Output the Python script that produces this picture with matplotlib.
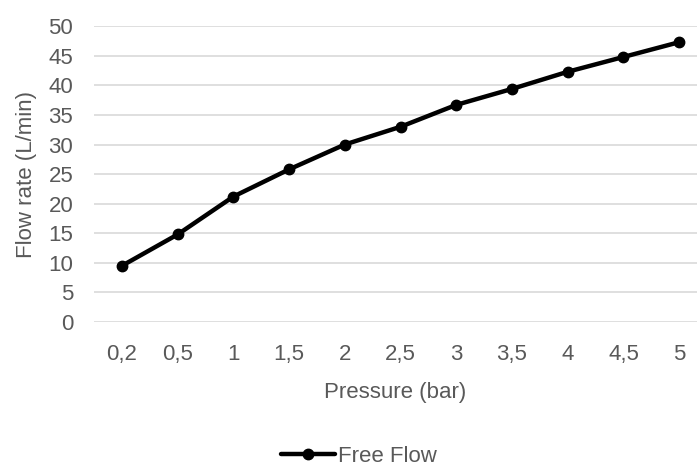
import matplotlib.pyplot as plt

pressure_labels = ['0,2', '0,5', '1', '1,5', '2', '2,5', '3', '3,5', '4', '4,5', '5']
flow_rate = [9.5, 14.8, 21.2, 25.8, 30.0, 33.0, 36.7, 39.4, 42.3, 44.8, 47.3]
y_ticks = list(range(0, 55, 5))

plt.rcParams['font.family'] = ['Liberation Sans', 'DejaVu Sans']
grey = '#595959'

fig = plt.figure(figsize=(6.97, 4.68), dpi=100)
ax = fig.add_axes([0.135, 0.312, 0.865, 0.632])

x = list(range(len(pressure_labels)))
ax.plot(x, flow_rate, color='black', linewidth=3.2, marker='o', markersize=7.5,
        label='Free Flow', solid_capstyle='round')

ax.set_xlim(-0.5, 10.32)
ax.set_ylim(0, 50)
ax.set_yticks(y_ticks)
ax.set_xticks(x)
ax.set_xticklabels(pressure_labels)
ax.yaxis.grid(True, color='#d9d9d9', linewidth=1.2)
ax.set_axisbelow(True)
for s in ax.spines.values():
    s.set_visible(False)
ax.tick_params(length=0, labelsize=16, labelcolor=grey)
ax.tick_params(axis='x', pad=16)
ax.tick_params(axis='y', pad=15)

ax.set_xlabel('Pressure (bar)', fontsize=16, color=grey, labelpad=12)
ax.set_ylabel('Flow rate (L/min)', fontsize=16, color=grey, labelpad=8)

fig.legend(loc='center', bbox_to_anchor=(0.515, 0.024), frameon=False, fontsize=16,
           labelcolor=grey, handlelength=2.4, handletextpad=0.15)

fig.savefig('out.png', dpi=100)
